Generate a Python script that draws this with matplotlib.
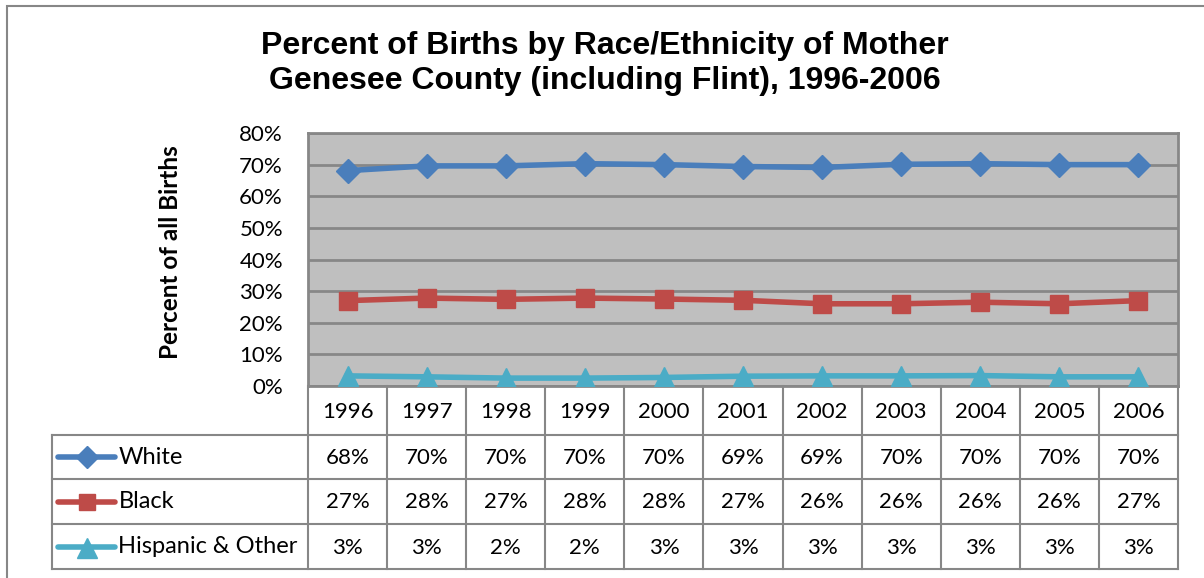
import matplotlib
matplotlib.use("Agg")
import matplotlib.pyplot as plt
from matplotlib.lines import Line2D
from matplotlib.patches import Rectangle

years = ["1996", "1997", "1998", "1999", "2000", "2001", "2002", "2003", "2004", "2005", "2006"]
white = [68.1, 69.6, 69.6, 70.3, 70.0, 69.4, 69.1, 70.1, 70.3, 70.0, 70.0]
black = [27.0, 27.8, 27.4, 27.8, 27.5, 27.1, 26.0, 26.0, 26.5, 26.0, 27.0]
hispanic = [3.2, 2.9, 2.5, 2.5, 2.7, 3.1, 3.2, 3.2, 3.3, 2.9, 2.9]
white_lbl = ["68%", "70%", "70%", "70%", "70%", "69%", "69%", "70%", "70%", "70%", "70%"]
black_lbl = ["27%", "28%", "27%", "28%", "28%", "27%", "26%", "26%", "26%", "26%", "27%"]
hisp_lbl = ["3%", "3%", "2%", "2%", "3%", "3%", "3%", "3%", "3%", "3%", "3%"]
names = ["White", "Black", "Hispanic & Other"]

colors = ["#4A7EBB", "#BE4B48", "#4BACC6"]
markers = ["D", "s", "^"]
msizes = [12, 13, 15]
grid_c = "#878787"
body_font = ["Lato", "DejaVu Sans"]

W, H = 1204, 578
fig = plt.figure(figsize=(W / 100, H / 100), dpi=100)

# outer chart border
fig.patches.append(Rectangle((7 / W, -0.05), 1.2, (H - 6) / H + 0.05, transform=fig.transFigure,
                             fill=False, edgecolor="#878787", linewidth=1.5))

fig.text(605 / W, 1 - 46 / H, "Percent of Births by Race/Ethnicity of Mother",
         ha="center", va="center", fontsize=23, fontweight="bold", family="Liberation Sans")
fig.text(605 / W, 1 - 81 / H, "Genesee County (including Flint), 1996-2006",
         ha="center", va="center", fontsize=23, fontweight="bold", family="Liberation Sans")

# main plot area
ax = fig.add_axes([308 / W, 1 - 386 / H, 870 / W, 253 / H])
ax.set_facecolor("#BFBFBF")
x = list(range(len(years)))
for vals, c, m, ms in zip([white, black, hispanic], colors, markers, msizes):
    ax.plot(x, vals, color=c, linewidth=4, marker=m, markersize=ms, zorder=3)
ax.set_xlim(-0.5, len(years) - 0.5)
ax.set_ylim(0, 80)
ax.set_yticks(range(0, 81, 10))
ax.set_yticklabels([f"{v}%" for v in range(0, 81, 10)], fontsize=16, family=body_font)
ax.set_xticks([])
ax.yaxis.grid(True, color=grid_c, linewidth=2)
ax.set_axisbelow(True)
ax.tick_params(axis="y", length=0, pad=18)
for s in ax.spines.values():
    s.set_color(grid_c)
    s.set_linewidth(2)
ax.set_ylabel("Percent of all Births", fontsize=17.5, fontweight="bold", family=body_font)
ax.yaxis.set_label_coords(-0.145, 0.53)

# data table below
label_w = 256 / 79.1
tx = fig.add_axes([52 / W, 1 - 569 / H, 1126 / W, 183 / H])
tx.set_xlim(-0.5 - label_w, len(years) - 0.5)
rows = [0, 49, 93, 138, 183]
tx.set_ylim(rows[-1], 0)
tx.axis("off")
line_kw = dict(color=grid_c, linewidth=1.5, clip_on=False)
for i in range(len(years) + 1):
    tx.plot([i - 0.5, i - 0.5], [0, rows[-1]], **line_kw)
tx.plot([-0.5 - label_w, -0.5 - label_w], [rows[1], rows[-1]], **line_kw)
for r in rows[1:]:
    tx.plot([-0.5 - label_w, len(years) - 0.5], [r, r], **line_kw)
for i, yr in enumerate(years):
    tx.text(i, (rows[0] + rows[1]) / 2 + 1, yr, ha="center", va="center", fontsize=16, family=body_font)
for k, (lbls, name, c, m, ms) in enumerate(zip([white_lbl, black_lbl, hisp_lbl], names, colors, markers, msizes)):
    yc = (rows[k + 1] + rows[k + 2]) / 2
    for i, t in enumerate(lbls):
        tx.text(i, yc + 1, t, ha="center", va="center", fontsize=16, family=body_font)
    x0 = -0.5 - label_w + 0.08
    tx.add_line(Line2D([x0, x0 + 0.72], [yc, yc], color=c, linewidth=4, solid_capstyle="round"))
    tx.add_line(Line2D([x0 + 0.36], [yc + (1.5 if m == "^" else 0)], color=c, marker=m,
                       markersize=ms - 1, linestyle="none"))
    tx.text(x0 + 0.76, yc, name, ha="left", va="center", fontsize=17, family=body_font)

fig.savefig("out.png", dpi=100)
